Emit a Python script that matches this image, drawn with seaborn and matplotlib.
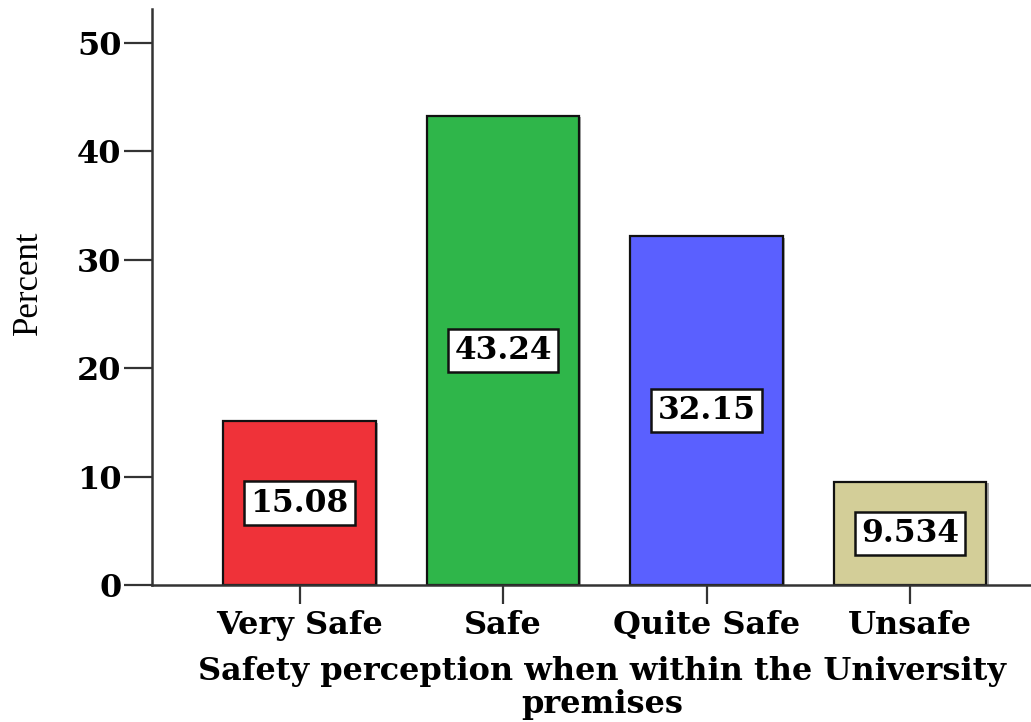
import matplotlib
matplotlib.use("Agg")
import matplotlib.pyplot as plt
import matplotlib.patheffects as pe
import seaborn as sns
import pandas as pd

# Survey responses: share of students per safety rating
categories = ["Very Safe", "Safe", "Quite Safe", "Unsafe"]
percent = [15.08, 43.24, 32.15, 9.534]
value_labels = ["15.08", "43.24", "32.15", "9.534"]
bar_colors = ["#EF3239", "#2FB64A", "#5A60FF", "#D3CE98"]
y_ticks = [0, 10, 20, 30, 40, 50]

sns.set_style("ticks")
plt.rcParams["font.family"] = ["DejaVu Serif"]
plt.rcParams["text.color"] = "black"
plt.rcParams["xtick.labelcolor"] = "black"
plt.rcParams["ytick.labelcolor"] = "black"
plt.rcParams["axes.labelcolor"] = "black"

df = pd.DataFrame({"category": categories, "percent": percent})

fig = plt.figure(figsize=(10.31, 7.22), dpi=100)
ax = fig.add_axes([0.1474, 0.1898, 0.8526, 0.7977])

shadow = [pe.SimplePatchShadow(offset=(1.5, -1.0), shadow_rgbFace="#555555", alpha=0.5), pe.Normal()]

sns.barplot(data=df, x="category", y="percent", hue="category", order=categories,
            hue_order=categories, palette=bar_colors, width=0.75,
            edgecolor="#111111", linewidth=1.6, legend=False, saturation=1, ax=ax)

for patch in ax.patches:
    patch.set_path_effects(shadow)

# Value boxes at the middle of each bar
for i, (v, lab) in enumerate(zip(percent, value_labels)):
    ax.text(i, v / 2, lab, ha="center", va="center", fontsize=22.5, fontweight="bold",
            color="black",
            bbox=dict(boxstyle="square,pad=0.2", facecolor="white", edgecolor="#111111",
                      linewidth=1.8))

ax.set_xlim(-0.725, 3.594)
ax.set_ylim(0, 53.1)
ax.set_yticks(y_ticks)
ax.set_yticklabels([str(t) for t in y_ticks], fontsize=23, fontweight="bold")
ax.set_xticks(range(len(categories)))
ax.set_xticklabels(categories, fontsize=23, fontweight="bold")

ax.tick_params(axis="y", length=20, width=1.6, color="#333333", pad=2)
ax.tick_params(axis="x", length=14, width=1.6, color="#333333", pad=4)

for side in ("top", "right"):
    ax.spines[side].set_visible(False)
for side in ("left", "bottom"):
    ax.spines[side].set_linewidth(1.8)
    ax.spines[side].set_color("#333333")

ax.set_ylabel("Percent", fontsize=25, family=["Liberation Serif"], fontweight="normal")
ax.yaxis.set_label_coords(-0.122, 0.524)

ax.set_xlabel("Safety perception when within the University\npremises", fontsize=23,
              fontweight="bold", linespacing=1.08, va="top")
ax.xaxis.set_label_coords(0.512, -0.124)

fig.savefig("out.png", dpi=100)
